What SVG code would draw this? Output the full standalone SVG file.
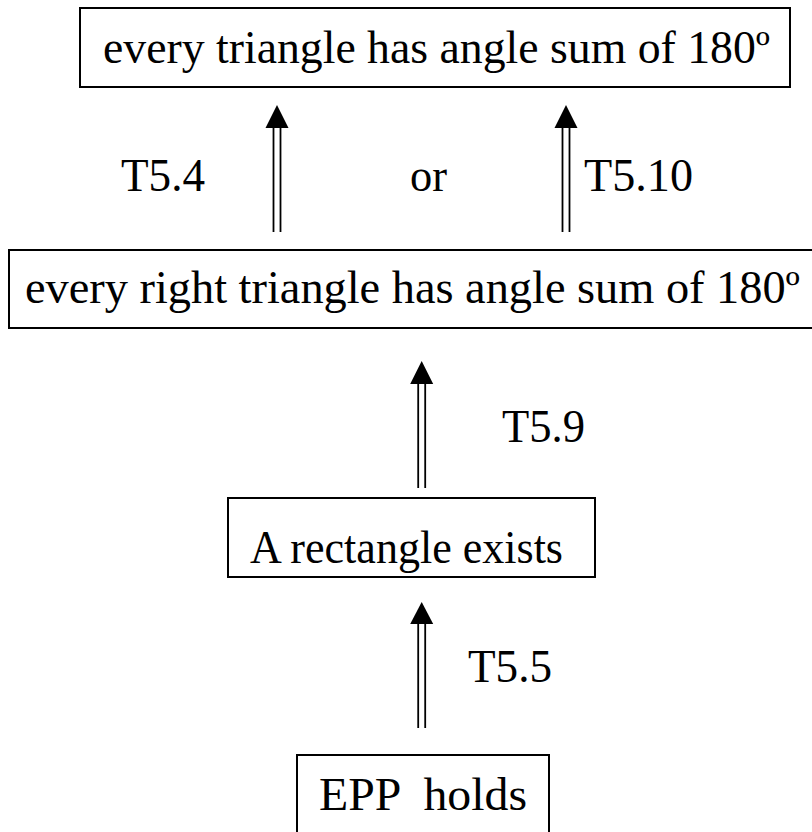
<svg xmlns="http://www.w3.org/2000/svg" width="812" height="832" viewBox="0 0 812 832">
<style>
.box{fill:#fff;stroke:#000;stroke-width:2}
text{font-family:'Liberation Serif','Times New Roman',serif;font-size:46px;fill:#000}
.sh{stroke:#000;stroke-width:1.8;fill:none}
.hd{fill:#000}
</style>
<rect width="812" height="832" fill="#fff"/>
<g id="connectors">
<g id="a1"><line class="sh" x1="273.5" y1="126" x2="273.5" y2="232"/><line class="sh" x1="280.5" y1="126" x2="280.5" y2="232"/><polygon class="hd" points="277,105 265.5,128 288.5,128"/></g>
<g id="a2"><line class="sh" x1="562.5" y1="126" x2="562.5" y2="232"/><line class="sh" x1="569.5" y1="126" x2="569.5" y2="232"/><polygon class="hd" points="566,105 554.5,128 577.5,128"/></g>
<g id="a3"><line class="sh" x1="418.2" y1="382" x2="418.2" y2="488"/><line class="sh" x1="425.2" y1="382" x2="425.2" y2="488"/><polygon class="hd" points="421.7,361 410.2,384 433.2,384"/></g>
<g id="a4"><line class="sh" x1="418.2" y1="622" x2="418.2" y2="728"/><line class="sh" x1="425.2" y1="622" x2="425.2" y2="728"/><polygon class="hd" points="421.7,602 410.2,624 433.2,624"/></g>
<text x="121" y="191" textLength="84" lengthAdjust="spacingAndGlyphs">T5.4</text>
<text x="410" y="191" textLength="37" lengthAdjust="spacingAndGlyphs">or</text>
<text x="584" y="191" textLength="109" lengthAdjust="spacingAndGlyphs">T5.10</text>
<text x="502" y="442" textLength="83" lengthAdjust="spacingAndGlyphs">T5.9</text>
<text x="468" y="682" textLength="84" lengthAdjust="spacingAndGlyphs">T5.5</text>
</g>
<g id="n1"><rect class="box" x="80" y="8" width="710" height="79"/><text x="103" y="63" textLength="667" lengthAdjust="spacingAndGlyphs">every triangle has angle sum of 180º</text></g>
<g id="n2"><rect class="box" x="9" y="250" width="810" height="78"/><text x="25" y="303" textLength="775" lengthAdjust="spacingAndGlyphs">every right triangle has angle sum of 180º</text></g>
<g id="n3"><rect class="box" x="228" y="498" width="367" height="79"/><text x="250" y="563" textLength="313" lengthAdjust="spacingAndGlyphs">A rectangle exists</text></g>
<g id="n4"><rect class="box" x="297" y="755" width="252" height="90"/><text x="319" y="810" textLength="208" lengthAdjust="spacingAndGlyphs" xml:space="preserve">EPP  holds</text></g>
</svg>
